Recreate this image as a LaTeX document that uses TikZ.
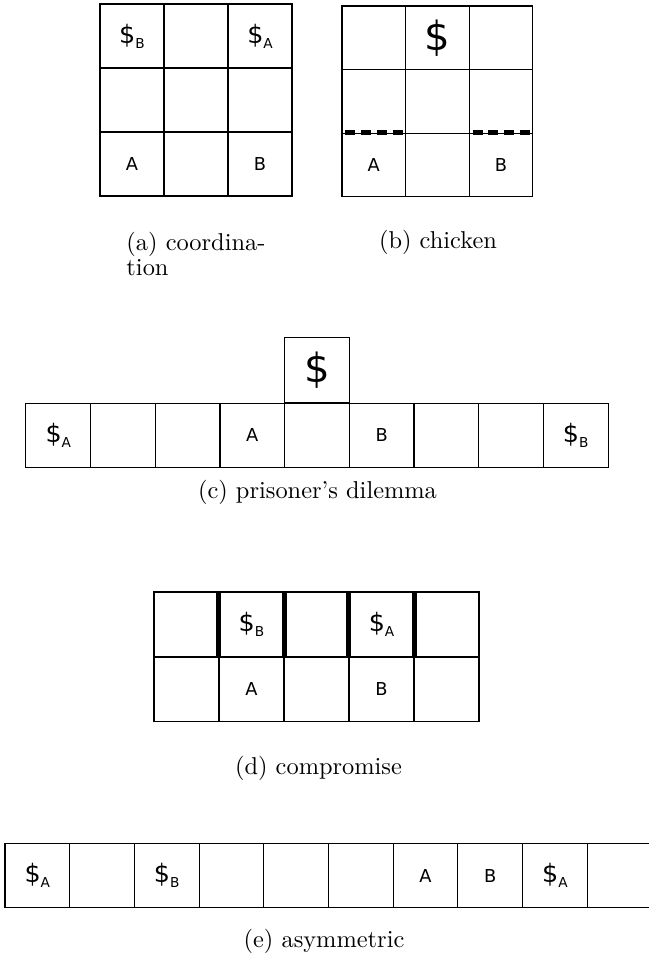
\documentclass[tikz,border=0pt]{standalone}
\usepackage{fontspec}
\newfontfamily\dvsans{DejaVu Sans}
\newcommand\dollarsub[1]{{\fontsize{10.4}{12}\selectfont\$}\raisebox{-2.1pt}{\fontsize{5.6}{6}\selectfont #1}}
\newcommand\bigdollar{{\fontsize{16.5}{18}\selectfont\$}}
\begin{document}
\begin{tikzpicture}[x=0.41pt,y=-0.41pt,
  cell/.style={draw, line width=0.42pt, inner sep=0pt, minimum width=#1*0.41pt, minimum height=#1*0.41pt, font=\dvsans\fontsize{7.3}{8}\selectfont},
  cell/.default=64.5,
  thickbar/.style={line width=2.1pt},
  thickdash/.style={line width=2pt, dash pattern=on 4.1pt off 2.35pt, dash phase=4.85pt},
  caption/.style={inner sep=0pt, font=\fontsize{10}{8.2}\selectfont}]
\useasboundingbox (0,0) rectangle (648,974);
% (a) coordination
\node[cell=64] (a11) at (132,36) {\dollarsub{B}};
\node[cell=64] (a12) at (196,36) {};
\node[cell=64] (a13) at (260,36) {\dollarsub{A}};
\node[cell=64] (a21) at (132,100) {};
\node[cell=64] (a22) at (196,100) {};
\node[cell=64] (a23) at (260,100) {};
\node[cell=64] (a31) at (132,164) {A};
\node[cell=64] (a32) at (196,164) {};
\node[cell=64] (a33) at (260,164) {B};
\node[caption, anchor=north west, align=left] (capa) at (126,232) {(a) coordina-\\tion};
% (b) chicken
\node[cell=63.6] (b11) at (373.8,37.8) {};
\node[cell=63.6] (b12) at (437.4,37.8) {\bigdollar};
\node[cell=63.6] (b13) at (501,37.8) {};
\node[cell=63.6] (b21) at (373.8,101.4) {};
\node[cell=63.6] (b22) at (437.4,101.4) {};
\node[cell=63.6] (b23) at (501,101.4) {};
\node[cell=63.6] (b31) at (373.8,165) {A};
\node[cell=63.6] (b32) at (437.4,165) {};
\node[cell=63.6] (b33) at (501,165) {B};
\draw[thickdash] (b31.north west) -- (b31.north east);
\draw[thickdash] (b33.north west) -- (b33.north east);
\node[caption] (capb) at (438,242) {(b) chicken};
% (c) prisoner's dilemma
\node[cell=64.67] (c0) at (317,370.3) {\bigdollar};
\node[cell=64.67] (c1) at (58.3,435.5) {\dollarsub{A}};
\node[cell=64.67] (c2) at (123,435.5) {};
\node[cell=64.67] (c3) at (187.7,435.5) {};
\node[cell=64.67] (c4) at (252.3,435.5) {A};
\node[cell=64.67] (c5) at (317,435.5) {};
\node[cell=64.67] (c6) at (381.7,435.5) {B};
\node[cell=64.67] (c7) at (446.3,435.5) {};
\node[cell=64.67] (c8) at (511,435.5) {};
\node[cell=64.67] (c9) at (575.7,435.5) {\dollarsub{B}};
\node[caption] (capc) at (317.5,492) {(c) prisoner's dilemma};
% (d) compromise
\node[cell=65] (d11) at (186.5,624.5) {};
\node[cell=65] (d12) at (251.5,624.5) {\dollarsub{B}};
\node[cell=65] (d13) at (316.5,624.5) {};
\node[cell=65] (d14) at (381.5,624.5) {\dollarsub{A}};
\node[cell=65] (d15) at (446.5,624.5) {};
\node[cell=65] (d21) at (186.5,689) {};
\node[cell=65] (d22) at (251.5,689) {A};
\node[cell=65] (d23) at (316.5,689) {};
\node[cell=65] (d24) at (381.5,689) {B};
\node[cell=65] (d25) at (446.5,689) {};
\draw[thickbar] (d12.north west) -- (d12.south west);
\draw[thickbar] (d12.north east) -- (d12.south east);
\draw[thickbar] (d14.north west) -- (d14.south west);
\draw[thickbar] (d14.north east) -- (d14.south east);
\node[caption] (capd) at (318.5,768) {(d) compromise};
% (e) asymmetric
\node[cell=64.7] (e1) at (37.35,875.5) {\dollarsub{A}};
\node[cell=64.7] (e2) at (102.05,875.5) {};
\node[cell=64.7] (e3) at (166.75,875.5) {\dollarsub{B}};
\node[cell=64.7] (e4) at (231.45,875.5) {};
\node[cell=64.7] (e5) at (296.15,875.5) {};
\node[cell=64.7] (e6) at (360.85,875.5) {};
\node[cell=64.7] (e7) at (425.55,875.5) {A};
\node[cell=64.7] (e8) at (490.25,875.5) {B};
\node[cell=64.7] (e9) at (554.95,875.5) {\dollarsub{A}};
\node[cell=64.7] (e10) at (619.65,875.5) {};
\node[caption] (cape) at (324,941) {(e) asymmetric};
\end{tikzpicture}
\end{document}
